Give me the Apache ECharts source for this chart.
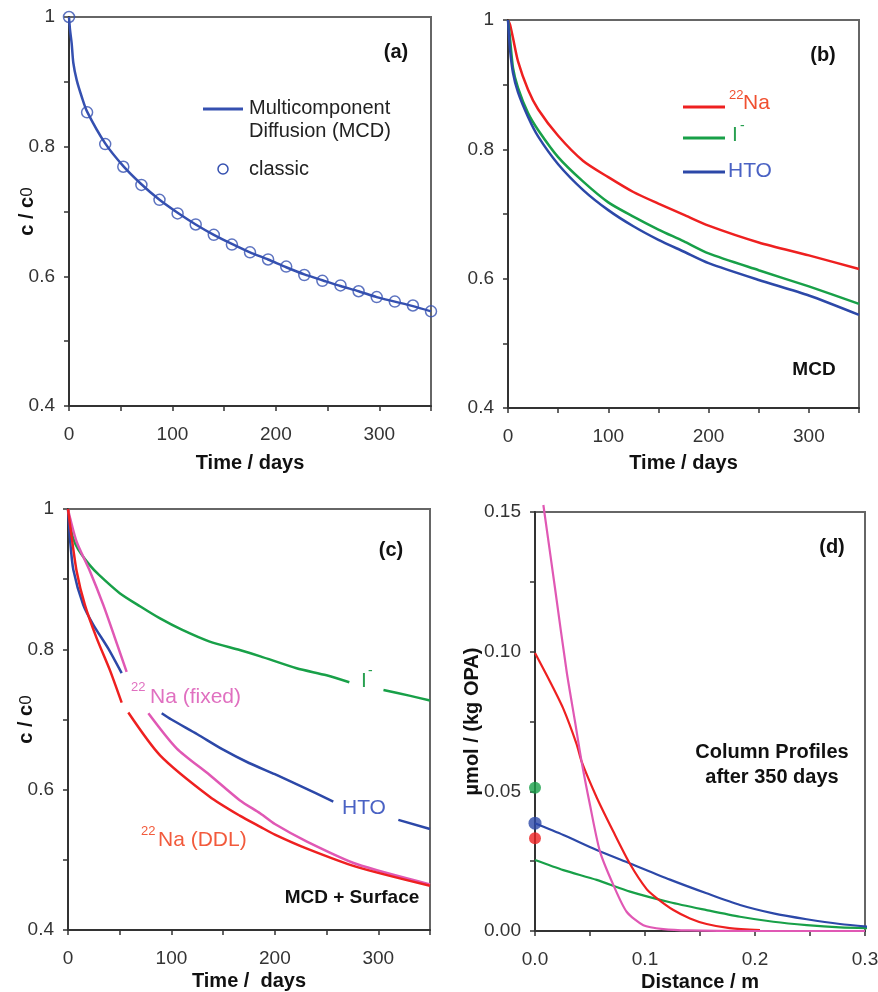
<!DOCTYPE html>
<html>
<head>
<meta charset="utf-8">
<script src="https://cdn.jsdelivr.net/npm/echarts@6/dist/echarts.min.js"></script>
<style>
  html, body { margin: 0; padding: 0; background: #fff; }
  #chart { width: 878px; height: 992px; }
</style>
</head>
<body>
<div id="chart"></div>
<script>
// ---- panel (a): MCD vs classic ----
const timeA = [0, 17.5, 35, 52.5, 70, 87.5, 105, 122.5, 140, 157.5, 175, 192.5, 210, 227.5, 245, 262.5, 280, 297.5, 315, 332.5, 350];
const classicA = [1.0, 0.853, 0.804, 0.769, 0.741, 0.718, 0.697, 0.680, 0.664, 0.649, 0.637, 0.626, 0.615, 0.602, 0.593, 0.586, 0.577, 0.568, 0.561, 0.555, 0.546];
const mcdTimeA = [0, 1, 2.6, 4.2, 7.4, 12.3, 17.5, 35, 52.5, 70, 87.5, 105, 122.5, 140, 157.5, 175, 192.5, 210, 227.5, 245, 262.5, 280, 297.5, 315, 332.5, 350];
const mcdA = [1.0, 0.98, 0.959, 0.929, 0.903, 0.877, 0.854, 0.805, 0.770, 0.742, 0.718, 0.698, 0.680, 0.664, 0.650, 0.637, 0.626, 0.614, 0.603, 0.594, 0.585, 0.577, 0.568, 0.561, 0.554, 0.546];

// ---- panel (b): MCD only ----
const timeB = [0, 2, 5, 10, 20, 30, 50, 75, 100, 125, 150, 175, 200, 250, 300, 350];
const naB = [1.0, 0.993, 0.972, 0.936, 0.892, 0.862, 0.821, 0.782, 0.757, 0.734, 0.716, 0.699, 0.682, 0.656, 0.636, 0.615];
const iB = [1.0, 0.972, 0.926, 0.895, 0.856, 0.830, 0.788, 0.750, 0.718, 0.696, 0.676, 0.658, 0.639, 0.613, 0.588, 0.561];
const htoB = [1.0, 0.955, 0.918, 0.888, 0.850, 0.820, 0.777, 0.737, 0.706, 0.681, 0.660, 0.642, 0.624, 0.598, 0.574, 0.544];

// ---- panel (c): MCD + surface (null = line broken for a label) ----
const timeCI = [0, 2, 5, 10, 21, 30, 50, 70, 89, 110, 137, 166, 186, 221, 250, 272, 289, 305, 330, 350];
const iC = [1.0, 0.978, 0.958, 0.942, 0.920, 0.906, 0.880, 0.861, 0.844, 0.828, 0.811, 0.799, 0.790, 0.773, 0.763, 0.753, null, 0.742, 0.734, 0.727];
const timeCH = [0, 1.9, 5.2, 14.8, 24.5, 39, 51.9, 70, 90.6, 100, 125, 150, 175, 200, 225, 256.5, 290, 319.4, 350];
const htoC = [1.0, 0.958, 0.913, 0.863, 0.835, 0.801, 0.766, null, 0.709, 0.700, 0.679, 0.657, 0.638, 0.622, 0.605, 0.583, null, 0.557, 0.544];
const timeCF = [0, 2, 8.4, 21.3, 34.2, 45.4, 56.7, 67, 77.7, 105, 137, 166, 186, 200, 231, 279, 350];
const fixedC = [1.0, 0.987, 0.953, 0.911, 0.863, 0.816, 0.768, null, 0.709, 0.659, 0.621, 0.585, 0.566, 0.551, 0.526, 0.494, 0.465];
const timeCD = [0, 2, 8.4, 16.4, 27.7, 40.6, 51.9, 55, 58.3, 89, 137, 166, 186, 200, 231, 279, 350];
const ddlC = [1.0, 0.977, 0.911, 0.863, 0.816, 0.770, 0.724, null, 0.710, 0.649, 0.590, 0.563, 0.547, 0.536, 0.516, 0.490, 0.463];

// ---- panel (d): column profiles after 350 days ----
const distPink = [0.0076, 0.0182, 0.0288, 0.0364, 0.0424, 0.05, 0.0591, 0.0712, 0.0833, 0.0985, 0.1167, 0.14, 0.2, 0.3];
const pinkD = [0.1525, 0.1227, 0.0928, 0.0749, 0.0606, 0.0451, 0.0284, 0.0165, 0.0069, 0.0021, 0.0007, 0.0002, 0, 0];
const distRed = [0, 0.0136, 0.0258, 0.0379, 0.0424, 0.0561, 0.0712, 0.0864, 0.1015, 0.1106, 0.1258, 0.1409, 0.156, 0.177, 0.2045];
const redD = [0.0995, 0.0893, 0.0795, 0.0668, 0.0606, 0.0478, 0.0356, 0.0240, 0.0150, 0.0118, 0.0075, 0.0045, 0.0025, 0.0010, 0.0003];
const distBG = [0, 0.0258, 0.0561, 0.0864, 0.1227, 0.156, 0.1864, 0.2167, 0.247, 0.2773, 0.3045];
const blueD = [0.0386, 0.0344, 0.0290, 0.0242, 0.0184, 0.0135, 0.0093, 0.0063, 0.0042, 0.0025, 0.0015];
const greenD = [0.0254, 0.0218, 0.0183, 0.0141, 0.0103, 0.0075, 0.0051, 0.0033, 0.0021, 0.0013, 0.0010];
const dotNames = ["I-", "HTO", "22Na"];
const dotValues = [0.0513, 0.0386, 0.0332];

const FONT = "'Liberation Sans', Arial, sans-serif";
const RED = "#ee2020", GREEN = "#18a048", BLUE = "#2c48a8", PINK = "#e058b4", ABLUE = "#3550b0";

function pairs(xs, ys) {
  return xs.map((x, i) => [x, ys[i] == null ? "-" : ys[i]]);
}

const chart = echarts.init(document.getElementById("chart"), null, { renderer: "canvas" });

const tickLabel = { color: "#333", fontSize: 19, fontFamily: FONT, margin: 14 };
const axisLine = { show: true, lineStyle: { color: "#333", width: 2 } };
const axisTick = { show: true, inside: false, length: 5, lineStyle: { color: "#333", width: 1.5 } };
const nameStyle = { color: "#111", fontSize: 20, fontWeight: "bold", fontFamily: FONT };

function timeAxis(idx, gap, name) {
  return {
    type: "value", gridIndex: idx, min: 0, max: 350, interval: 50,
    name: name, nameLocation: "middle", nameGap: gap, nameMoveOverlap: false, nameTextStyle: nameStyle,
    axisLine: axisLine, axisTick: axisTick, splitLine: { show: false },
    axisLabel: Object.assign({}, tickLabel, {
      margin: 19,
      formatter: v => (Math.round(v) % 100 === 0 ? String(Math.round(v)) : "")
    })
  };
}
function ratioAxis(idx, name) {
  return {
    type: "value", gridIndex: idx, min: 0.4, max: 1, interval: 0.1,
    name: name, nameLocation: "middle", nameGap: 32, nameMoveOverlap: false,
    nameTextStyle: Object.assign({}, nameStyle, { rich: { z: { fontSize: 17, fontWeight: "normal", fontFamily: FONT, color: "#111" } } }),
    axisLine: axisLine, axisTick: axisTick, splitLine: { show: false },
    axisLabel: Object.assign({}, tickLabel, {
      formatter: v => {
        const k = Math.round(v * 10);
        return k % 2 === 0 ? (k === 10 ? "1" : (k / 10).toFixed(1)) : "";
      }
    })
  };
}
const gridBase = { show: true, borderColor: "#666", borderWidth: 2, backgroundColor: "transparent", containLabel: false, outerBoundsMode: "none" };

function line(name, x, y, data, color, width, z) {
  return {
    name: name, type: "line", xAxisIndex: x, yAxisIndex: y, data: data,
    showSymbol: false, symbol: "none", connectNulls: false, clip: false, z: z || 2,
    smooth: 0.25,
    lineStyle: { color: color, width: width || 2.5 }, itemStyle: { color: color },
    silent: true, animation: false
  };
}

function txt(x, y, text, size, color, opts) {
  return Object.assign({
    type: "text", x: x, y: y, silent: true,
    style: { text: text, fill: color || "#111", font: (opts && opts.bold ? "bold " : "") + size + "px " + FONT,
      align: (opts && opts.align) || "left", verticalAlign: "middle" }
  });
}
function seg(x1, y1, x2, y2, color) {
  return { type: "line", silent: true, shape: { x1: x1, y1: y1, x2: x2, y2: y2 }, style: { stroke: color, lineWidth: 3 } };
}

const option = {
  animation: false,
  backgroundColor: "#fff",
  grid: [
    Object.assign({ left: 69, top: 17, width: 362, height: 389 }, gridBase),
    Object.assign({ left: 508, top: 20, width: 351, height: 388 }, gridBase),
    Object.assign({ left: 68, top: 509, width: 362, height: 421 }, gridBase),
    Object.assign({ left: 535, top: 512, width: 330, height: 419 }, gridBase)
  ],
  xAxis: [
    timeAxis(0, 47, "Time / days"),
    timeAxis(1, 45, "Time / days"),
    timeAxis(2, 41, "Time /  days"),
    {
      type: "value", gridIndex: 3, min: 0, max: 0.3, interval: 0.05,
      name: "Distance / m", nameLocation: "middle", nameGap: 41, nameMoveOverlap: false, nameTextStyle: nameStyle,
      axisLine: axisLine, axisTick: axisTick, splitLine: { show: false },
      axisLabel: Object.assign({}, tickLabel, {
        margin: 19,
        formatter: v => (Math.round(v * 100) % 10 === 0 ? v.toFixed(1) : "")
      })
    }
  ],
  yAxis: [
    ratioAxis(0, "c / c{z|0}"),
    ratioAxis(1, ""),
    ratioAxis(2, "c / c{z|0}"),
    {
      type: "value", gridIndex: 3, min: 0, max: 0.15, interval: 0.025,
      name: "\u00b5mol / (kg OPA)", nameLocation: "middle", nameGap: 53, nameMoveOverlap: false, nameTextStyle: nameStyle,
      axisLine: axisLine, axisTick: axisTick, splitLine: { show: false },
      axisLabel: Object.assign({}, tickLabel, {
        formatter: v => (Math.round(v * 1000) % 50 === 0 ? v.toFixed(2) : "")
      })
    }
  ],
  series: [
    line("Multicomponent Diffusion (MCD)", 0, 0, pairs(mcdTimeA, mcdA), ABLUE, 2.5),
    {
      name: "classic", type: "scatter", xAxisIndex: 0, yAxisIndex: 0, data: pairs(timeA, classicA),
      symbol: "circle", symbolSize: 11, clip: false, z: 3, silent: true,
      itemStyle: { color: "rgba(0,0,0,0)", borderColor: ABLUE, borderWidth: 1.5 }
    },

    line("22Na", 1, 1, pairs(timeB, naB), RED, 2.5),
    line("I-", 1, 1, pairs(timeB, iB), GREEN, 2.5),
    line("HTO", 1, 1, pairs(timeB, htoB), BLUE, 2.5),

    line("I-", 2, 2, pairs(timeCI, iC), GREEN, 2.5),
    line("HTO", 2, 2, pairs(timeCH, htoC), BLUE, 2.5),
    line("22Na (fixed)", 2, 2, pairs(timeCF, fixedC), PINK, 2.5),
    line("22Na (DDL)", 2, 2, pairs(timeCD, ddlC), RED, 2.5, 3),

    line("I-", 3, 3, pairs(distBG, greenD), GREEN, 2.2),
    line("HTO", 3, 3, pairs(distBG, blueD), BLUE, 2.2),
    line("22Na (DDL)", 3, 3, pairs(distRed, redD), RED, 2.2),
    line("22Na (fixed)", 3, 3, pairs(distPink, pinkD), PINK, 2.2),
    {
      name: "surface", type: "scatter", xAxisIndex: 3, yAxisIndex: 3, clip: false, z: 4, silent: true,
      data: dotValues.map((v, i) => ({
        value: [0, v], symbolSize: i === 1 ? 13 : 12,
        itemStyle: { color: [GREEN, BLUE, RED][i] }
      })),
      symbol: "circle"
    }
  ],
  graphic: {
    elements: [
      // panel (a) legend + tag
      seg(203, 109, 243, 109, ABLUE),
      txt(249, 108, "Multicomponent", 20, "#222"),
      txt(249, 131, "Diffusion (MCD)", 20, "#222"),
      { type: "circle", silent: true, shape: { cx: 223, cy: 169, r: 5 }, style: { fill: "none", stroke: ABLUE, lineWidth: 1.5 } },
      txt(249, 169, "classic", 20, "#222"),
      txt(396, 52, "(a)", 20, "#111", { bold: true, align: "center" }),

      // panel (b) legend + tags
      seg(683, 107, 725, 107, RED),
      txt(729, 95, "22", 13, "#f05030"),
      txt(743, 103, "Na", 21, "#f05030"),
      seg(683, 138, 725, 138, GREEN),
      txt(732, 135, "I", 21, "#28a050"),
      txt(740, 126, "-", 14, "#28a050"),
      seg(683, 172, 725, 172, BLUE),
      txt(728, 171, "HTO", 21, "#4a62c4"),
      txt(823, 55, "(b)", 20, "#111", { bold: true, align: "center" }),
      txt(814, 370, "MCD", 19, "#111", { bold: true, align: "center" }),

      // panel (c) line labels + tags
      txt(131, 687, "22", 13, "#e070c0"),
      txt(150, 697, "Na (fixed)", 21, "#e070c0"),
      txt(141, 831, "22", 13, "#f25a3c"),
      txt(158, 840, "Na (DDL)", 21, "#f25a3c"),
      txt(342, 808, "HTO", 21, "#4a62c4"),
      txt(361, 681, "I", 21, "#28a050"),
      txt(368, 671, "-", 14, "#28a050"),
      txt(391, 550, "(c)", 20, "#111", { bold: true, align: "center" }),
      txt(352, 898, "MCD + Surface", 19, "#111", { bold: true, align: "center" }),

      // panel (d) tags
      txt(832, 547, "(d)", 20, "#111", { bold: true, align: "center" }),
      txt(772, 752, "Column Profiles", 20, "#111", { bold: true, align: "center" }),
      txt(772, 777, "after 350 days", 20, "#111", { bold: true, align: "center" })
    ]
  }
};

chart.setOption(option);
</script>
</body>
</html>
